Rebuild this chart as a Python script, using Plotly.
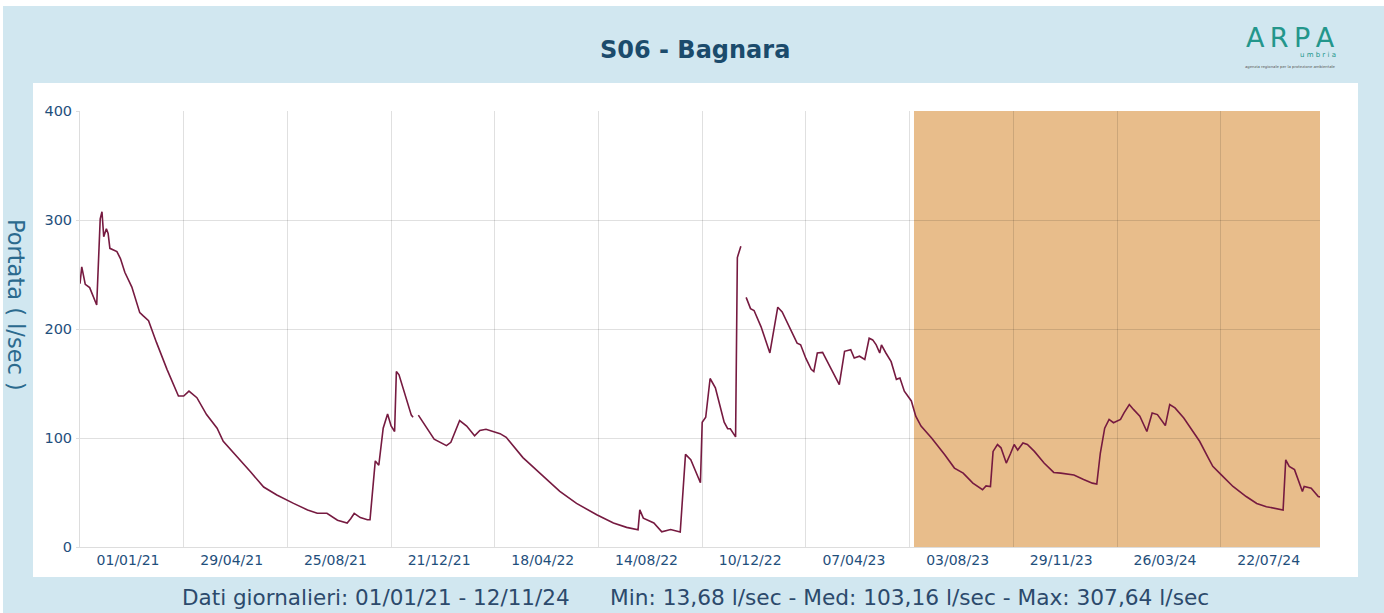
import pandas as pd
import plotly.graph_objects as go

# ---- data ----
start_date = "2021-01-01"
end_date = "2024-11-12"
# days elapsed since 01/01/21 for each read point (None value = gap in data)
days = [0, 2, 6, 11, 19, 23, 25, 27, 30, 32, 34, 42, 46, 51, 59, 68, 72, 78, 87, 99,
        112, 118, 124, 133, 144, 156, 163, 179, 194, 209, 224, 243, 259, 270, 281, 293,
        304, 308, 312, 319, 327, 330, 332, 336, 340, 345, 350, 354, 358, 360, 363, 377,
        379, 381,
        385, 394, 403, 417, 422, 432, 440, 449, 455, 462, 478, 485, 504, 527, 546, 565,
        588, 607, 622, 635, 637, 641, 653, 662, 672, 683, 685, 689, 695, 706, 708, 712,
        717, 723, 733, 737, 740, 746, 748, 752, 755,
        758, 763, 767, 775, 785, 794, 799, 809, 816, 820, 826, 832, 835, 839, 845, 855,
        864, 870, 877, 881, 887, 893, 898, 902, 906, 910, 912, 917, 923, 929, 933, 938,
        946, 951, 957, 969, 978, 984, 995, 1005, 1016, 1027, 1031, 1036, 1039, 1044,
        1048, 1054, 1059, 1063, 1067, 1073, 1078, 1086, 1097, 1108, 1116, 1131, 1142,
        1152, 1157, 1161, 1166, 1171, 1176, 1184, 1188, 1194, 1199, 1206, 1214, 1220,
        1226, 1235, 1240, 1246, 1256, 1265, 1274, 1284, 1289, 1299, 1312, 1327, 1339,
        1350, 1359, 1369, 1372, 1376, 1382, 1386, 1391, 1393, 1401, 1409, 1411]
portata = [241.5, 257, 241, 238, 222, 301, 307.6, 284.6, 292, 287.7, 274, 271, 264.6, 252,
           238.5, 215, 212, 207.7, 187.7, 163, 138.5, 138.5, 143, 137, 121.5, 109, 97, 83,
           69, 55, 47.7, 40, 34, 31, 31, 24.6, 22, 26, 30.8, 27, 25, 25, 45, 79, 75, 109,
           122, 111, 106, 161, 158, 121, 119, None,
           121, 110, 99, 93, 96, 116, 111, 102, 107, 108, 104, 100.6, 82, 65, 51, 40, 29.6,
           22, 18, 15.7, 34, 26.5, 22, 14, 16, 13.7, 37, 85, 80, 59, 114.5, 119, 154.6,
           146, 114.5, 108.5, 108.5, 101, 265.6, 276, None,
           229, 218.7, 217, 202, 178, 220, 215.7, 199, 187, 185.5, 173, 163, 161, 178,
           178.5, 163, 149, 179.5, 181, 173.4, 175, 172, 191.5, 190, 185.5, 178, 185.5,
           178, 170, 153.8, 155, 143, 134, 120, 111, 100, 91, 84.7, 72.4, 67.8, 58.6, 52.5,
           56, 55.5, 87.7, 94, 91, 77, 86, 94, 89, 95.4, 94, 87.7, 77, 68.4, 67.8, 66, 62,
           58.6, 57.7, 86, 109, 117, 114, 117, 123, 130.7, 126, 120, 106, 123, 121.5,
           111.4, 130.7, 127.6, 118.4, 107.7, 97, 81.6, 74, 66, 55.5, 46.3, 40, 37, 35.6,
           34, 80, 74, 71, 61.6, 51, 55.5, 54, 46.3, 46]
tick_labels = ["01/01/21", "29/04/21", "25/08/21", "21/12/21", "18/04/22", "14/08/22",
               "10/12/22", "07/04/23", "03/08/23", "29/11/23", "26/03/24", "22/07/24"]
y_ticks = [0, 100, 200, 300, 400]
shade_start = "2023-08-08"
title_text = "S06 - Bagnara"
y_title = "Portata ( l/sec )"
footer_left = "Dati giornalieri: 01/01/21 - 12/11/24"
footer_right = "Min: 13,68 l/sec - Med: 103,16 l/sec - Max: 307,64 l/sec"

dates = pd.Timestamp(start_date) + pd.to_timedelta(days, unit="D")
tick_dates = pd.to_datetime(tick_labels, format="%d/%m/%y")

# ---- geometry helpers (pixel -> paper) ----
W, H = 1384, 613
L, R, T, B = 80, 64, 111, 66
PW, PH = W - L - R, H - T - B


def px(x):
    return (x - L) / PW


def py(y):
    return (H - B - y) / PH


FONT = "DejaVu Sans"
BLUE_BG = "#d1e7f0"
LINE = "#761a40"

fig = go.Figure()
fig.add_trace(go.Scatter(x=dates, y=portata, mode="lines",
                         line=dict(color=LINE, width=1.6),
                         connectgaps=False, showlegend=False,
                         hoverinfo="x+y"))

shapes = [
    dict(type="rect", xref="paper", yref="paper", x0=px(3), x1=px(W + 5),
         y0=py(H + 5), y1=py(6), fillcolor=BLUE_BG, line=dict(width=0), layer="below"),
    dict(type="rect", xref="paper", yref="paper", x0=px(33), x1=px(1358),
         y0=py(577), y1=py(83), fillcolor="white", line=dict(width=0), layer="below"),
    dict(type="rect", xref="x", yref="y", x0=shade_start, x1=end_date,
         y0=0, y1=400, fillcolor="#e8bd8b", line=dict(width=0), layer="below"),
]

annotations = [
    dict(text=f"<b>{title_text}</b>", x=px(695), y=py(50), xref="paper", yref="paper",
         showarrow=False, xanchor="center", yanchor="middle",
         font=dict(family=FONT, size=24, color="#1b4b6c")),
    dict(text=y_title, x=px(16), y=py(305), xref="paper", yref="paper",
         showarrow=False, textangle=90, xanchor="center", yanchor="middle",
         font=dict(family=FONT, size=22.5, color="#2b6a8e")),
    dict(text=footer_left, x=px(180), y=py(597), xref="paper", yref="paper",
         showarrow=False, xanchor="left", yanchor="middle",
         font=dict(family=FONT, size=21.5, color="#2c4a6c")),
    dict(text=footer_right, x=px(608), y=py(597), xref="paper", yref="paper",
         showarrow=False, xanchor="left", yanchor="middle",
         font=dict(family=FONT, size=21.7, color="#2c4a6c")),
    dict(text="A\u2009R\u2009P\u2009A", x=px(1290), y=py(38), xref="paper", yref="paper",
         showarrow=False, xanchor="center", yanchor="middle",
         font=dict(family=FONT, size=27, color="#23968b")),
    dict(text="u m b r i a", x=px(1338), y=py(55), xref="paper", yref="paper",
         showarrow=False, xanchor="right", yanchor="middle",
         font=dict(family=FONT, size=7, color="#23968b")),
    dict(text="agenzia regionale per la protezione ambientale", x=px(1290), y=py(66.5),
         xref="paper", yref="paper", showarrow=False, xanchor="center", yanchor="middle",
         font=dict(family=FONT, size=3.8, color="#555555")),
]

GRID = "rgba(0,0,0,0.12)"
fig.update_layout(
    width=W, height=H,
    margin=dict(l=L, r=R, t=T, b=B, pad=0),
    paper_bgcolor="white", plot_bgcolor="white",
    shapes=shapes, annotations=annotations,
    xaxis=dict(range=[start_date, end_date], tickmode="array", tickvals=tick_dates,
               ticktext=tick_labels, showgrid=True, gridcolor=GRID, gridwidth=1,
               showline=True, linecolor="#dddddd", linewidth=1, zeroline=False,
               ticks="", ticklabelshift=48, ticklabelstandoff=0,
               tickfont=dict(family=FONT, size=14, color="#1f4f7c")),
    yaxis=dict(range=[0, 400], tickvals=y_ticks, showgrid=True, gridcolor=GRID,
               gridwidth=1, zeroline=False, showline=True, linecolor="#dddddd",
               ticks="outside", ticklen=3, tickcolor="#dddddd", ticklabelstandoff=1,
               tickfont=dict(family=FONT, size=14.5, color="#1f4f7c")),
    hovermode="closest",
)

fig.write_html("out.html", config={"displayModeBar": False},
               post_script="document.body.style.margin='0';"
                           "document.body.style.overflow='hidden';")
